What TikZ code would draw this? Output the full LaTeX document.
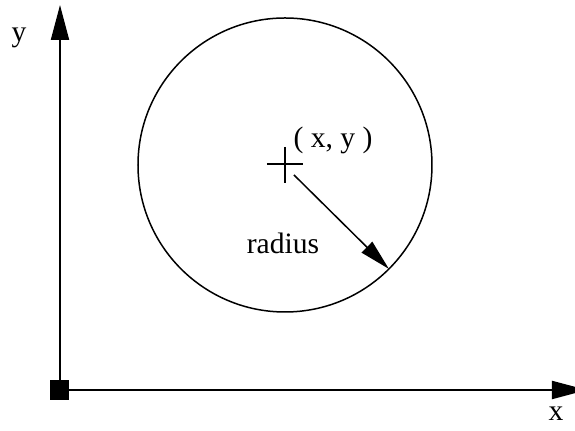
\documentclass[tikz,border=0pt]{standalone}
\usepackage{fontspec}
\setmainfont{Liberation Serif}
\usetikzlibrary{arrows.meta,calc}
\tikzset{>={Triangle[length=17.5pt,width=9pt]}}
\tikzstyle{axisline}=[line width=1pt]
\tikzstyle{lbl}=[font=\fontsize{14.8}{17}\selectfont,inner sep=0]
\def\R{147} % circle radius (px)

\begin{document}
\begin{tikzpicture}[x=0.5pt,y=-0.5pt]
  \useasboundingbox (0,0) rectangle (575,431);
  
  % AXIS
  \coordinate (O) at (60,390);
  \coordinate (ytip) at (60,5);
  \coordinate (xtip) at (587,390);
  \draw[->,axisline] (O) -- (ytip);
  \draw[->,axisline] (O) -- (xtip);
  \fill (O) ++(-9.5,-10) rectangle ++(19,20);
  \node[lbl] (ylab) at (19,38) {y};
  \node[lbl] (xlab) at (556,414) {x};
  
  % CIRCLE
  \coordinate (ctr) at (285,165);
  \draw[line width=0.75pt] (ctr) circle[radius=0.5*\R pt];
  \draw[line width=0.75pt] (ctr) ++(-18,-1) -- ++(36,0);
  \draw[line width=0.75pt] (ctr) ++(0,-18) -- ++(0,36);
  \node[lbl] (xy) at (333,140) {( x, y )};
  
  % RADIUS
  \coordinate (rstart) at (294,175);
  \coordinate (redge) at ($(ctr)+(45:\R)$);
  \draw[->,>={Triangle[length=15.5pt,width=7.5pt]},line width=0.75pt] (rstart) -- (redge);
  \node[lbl] (rlab) at (283,243) {radius};
  
\end{tikzpicture}
\end{document}
